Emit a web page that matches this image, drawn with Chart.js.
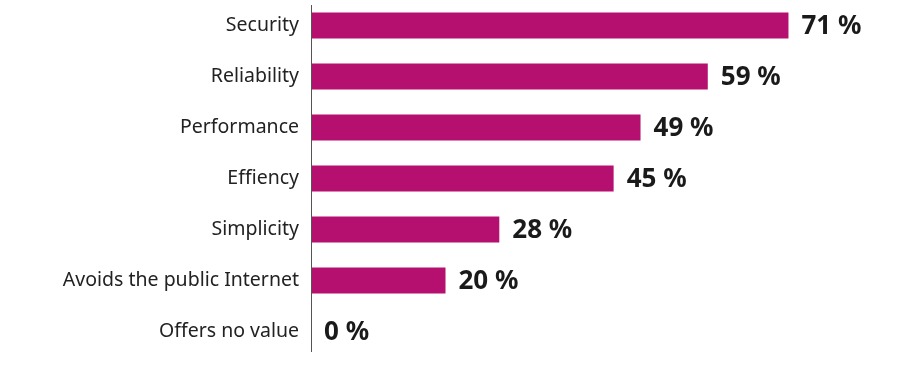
<!DOCTYPE html>
<html>
<head>
<meta charset="utf-8">
<script src="https://cdn.jsdelivr.net/npm/chart.js@4"></script>
<style>
  html, body { margin: 0; padding: 0; background: #fff; }
  #wrap { width: 915px; height: 380px; }
</style>
</head>
<body>
<div id="wrap"><canvas id="barChart"></canvas></div>
<script>
// Data
const categories = ['Security', 'Reliability', 'Performance', 'Effiency', 'Simplicity', 'Avoids the public Internet', 'Offers no value'];
const shares = [71, 59, 49, 45, 28, 20, 0];

// Value labels after each bar + a slightly inset axis line
const valueLabels = {
    id: 'valueLabels',
    afterDatasetsDraw(chart) {
        const c = chart.ctx;
        const area = chart.chartArea;
        const meta = chart.getDatasetMeta(0);
        c.save();
        c.strokeStyle = '#555';
        c.lineWidth = 1;
        c.beginPath();
        c.moveTo(area.left + 0.5, area.top + 5);
        c.lineTo(area.left + 0.5, area.bottom - 5);
        c.stroke();

        c.font = 'bold 26px "Noto Sans"';
        c.fillStyle = '#1a1a1a';
        c.textBaseline = 'middle';
        meta.data.forEach((bar, i) => {
            c.fillText(shares[i] + ' %', bar.x + 13, bar.y + 1);
        });
        c.restore();
    }
};

const ctx = document.getElementById('barChart').getContext('2d');
new Chart(ctx, {
    type: 'bar',
    data: {
        labels: categories,
        datasets: [{
            data: shares,
            backgroundColor: '#b5106f',
            barPercentage: 0.51,
            categoryPercentage: 1
        }]
    },
    options: {
        indexAxis: 'y',
        responsive: true,
        maintainAspectRatio: false,
        animation: false,
        layout: { padding: { top: 0, bottom: 23, left: 0, right: 66 } },
        plugins: { legend: { display: false }, tooltip: { enabled: false } },
        scales: {
            x: { display: false, min: 0, max: 80 },
            y: {
                afterFit(scale) {
                    scale.width = 311;
                    scale.paddingTop = 0;
                    scale.paddingBottom = 0;
                },
                grid: { display: false, drawTicks: false },
                border: { display: false },
                ticks: { padding: 12, color: '#222', font: { family: 'Noto Sans', size: 19.5 } }
            }
        }
    },
    plugins: [valueLabels]
});
</script>
</body>
</html>
